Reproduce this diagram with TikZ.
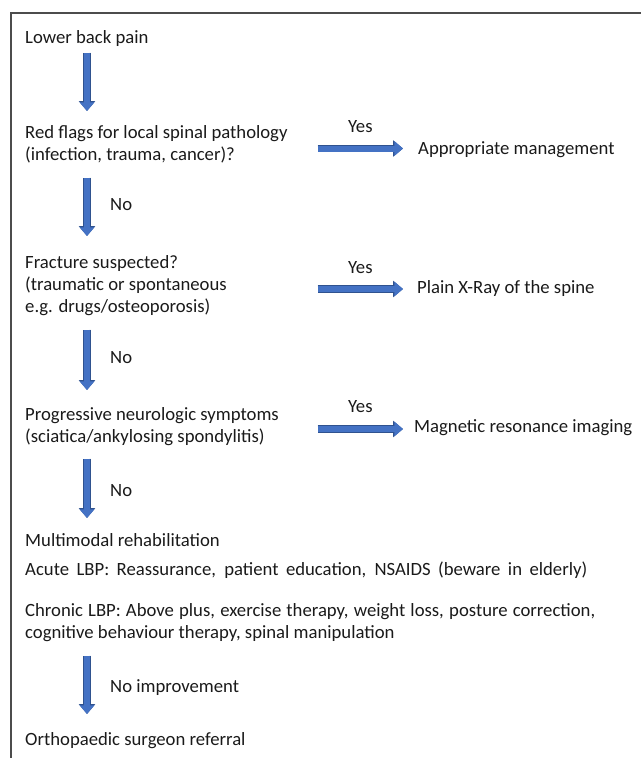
\documentclass[tikz,border=0pt]{standalone}
\usepackage{fontspec}
\setmainfont{Carlito}
\usetikzlibrary{arrows.meta}
\definecolor{flowblue}{HTML}{4472C4}
\definecolor{flowedge}{HTML}{2F528F}
\definecolor{inkgray}{HTML}{1A1A1A}
\tikzset{every node/.style={inner sep=0pt,anchor=base west,text=inkgray,
  font=\fontsize{18.7}{22}\selectfont,align=left}}
\tikzset{flow/.style={line width=6pt,color=flowblue,shorten >=1pt,shorten <=0.6pt,
  -{Triangle[length=8.6pt,width=14.2pt]},
  preaction={draw=flowedge,line width=7.2pt,-{Triangle[length=10pt,width=16pt]}}}}

\begin{document}
\begin{tikzpicture}[x=1pt,y=-1pt]
\useasboundingbox (0,0) rectangle (641,758);
\draw[gray!60!black,line width=1.1pt] (11,758) -- (11,13) -- (641,13);

% left column (multi-line nodes sit on their last baseline)
\node (lbp) at (25,43) {Lower back pain};
\node (redflags) at (25,160) {Red flags for local spinal pathology\\(infection, trauma, cancer)?};
\node (fracture) at (25,312) {Fracture suspected?\\(traumatic or spontaneous\\e.g. drugs/osteoporosis)};
\node (neuro) at (25,442) {Progressive neurologic symptoms\\(sciatica/ankylosing spondylitis)};
\node (rehab) at (25,546) {Multimodal rehabilitation};
\node (acute) at (25,575) {\makebox[562pt][s]{Acute LBP: Reassurance, patient education, NSAIDS (beware in elderly)}};
\node (chronic) at (25,638) {\makebox[570pt][s]{Chronic LBP: Above plus, exercise therapy, weight loss, posture correction,}\\cognitive behaviour therapy, spinal manipulation};
\node (surgeon) at (25,745) {Orthopaedic surgeon referral};

% right column
\node (mgmt) at (418,154) {Appropriate management};
\node (xray) at (417,293) {Plain X-Ray of the spine};
\node (mri) at (414,432) {Magnetic resonance imaging};

% labels
\node (yes1) at (348,132) {Yes};
\node (yes2) at (348,273) {Yes};
\node (yes3) at (348,412) {Yes};
\node (no1) at (110,210) {No};
\node (no2) at (110,363) {No};
\node (no3) at (110,496) {No};
\node (noimp) at (110,692) {No improvement};

% arrow ends
\coordinate (v1a) at (87,52);  \coordinate (v1b) at (87,112);
\coordinate (v2a) at (87,177); \coordinate (v2b) at (87,237);
\coordinate (v3a) at (87,329); \coordinate (v3b) at (87,391);
\coordinate (v4a) at (87,458); \coordinate (v4b) at (87,519);
\coordinate (v5a) at (87,655); \coordinate (v5b) at (87,715);
\coordinate (h1a) at (317,148.5); \coordinate (h1b) at (404,148.5);
\coordinate (h2a) at (317,289);   \coordinate (h2b) at (404,289);
\coordinate (h3a) at (317,429);   \coordinate (h3b) at (404,429);

\draw[flow] (v1a) -- (v1b);
\draw[flow] (v2a) -- (v2b);
\draw[flow] (v3a) -- (v3b);
\draw[flow] (v4a) -- (v4b);
\draw[flow] (v5a) -- (v5b);
\draw[flow] (h1a) -- (h1b);
\draw[flow] (h2a) -- (h2b);
\draw[flow] (h3a) -- (h3b);
\end{tikzpicture}
\end{document}
